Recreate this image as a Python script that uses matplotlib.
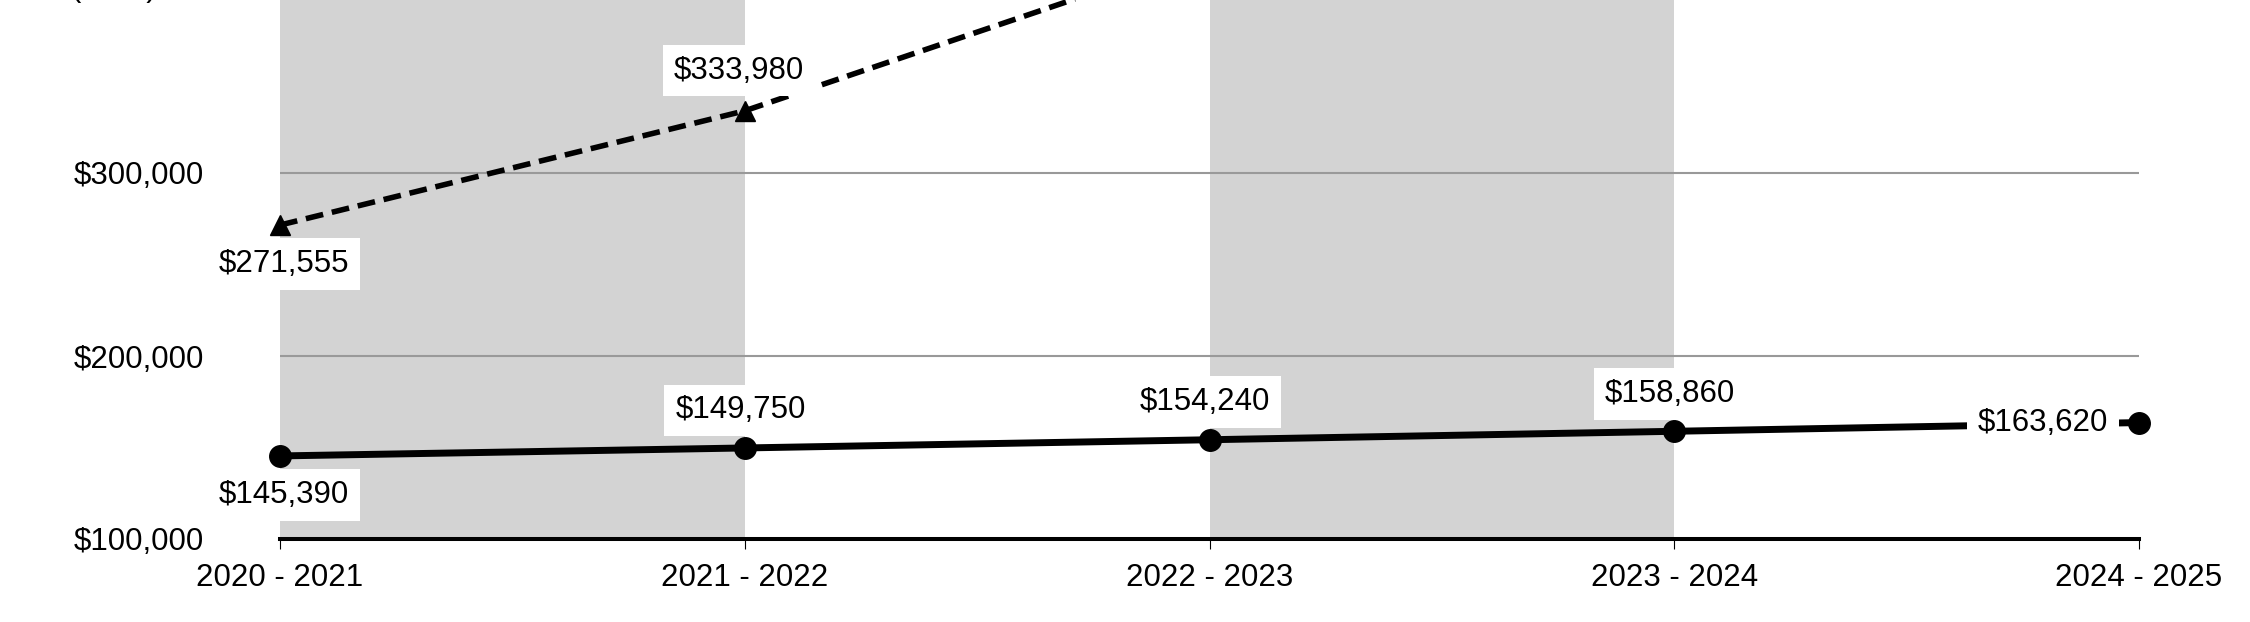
import matplotlib
matplotlib.use('Agg')
import matplotlib.pyplot as plt

plt.rcParams['font.family'] = ['Liberation Sans', 'DejaVu Sans']

# data
years = ['2020 - 2021', '2021 - 2022', '2022 - 2023', '2023 - 2024', '2024 - 2025']
solid_vals = [145390, 149750, 154240, 158860, 163620]
dashed_vals = [271555, 333980, 420000, 460000, 500000]
solid_labels = ['$145,390', '$149,750', '$154,240', '$158,860', '$163,620']
dashed_labels = ['$271,555', '$333,980']
yticks = [100000, 200000, 300000]
ytick_labels = ['$100,000', '$200,000', '$300,000']

fs = 22.5
fig = plt.figure(figsize=(22.5, 6.22), dpi=100)
# axes runs above the top of the picture, so the upper part is cut off
ax = fig.add_axes([280 / 2250, 83 / 622, 1859 / 2250, 732 / 622])
x = list(range(len(years)))

# alternating grey bands
for i in range(0, len(years) - 1, 2):
    ax.axvspan(x[i], x[i + 1], color='#d3d3d3', lw=0, zorder=0)

for v in yticks[1:]:
    ax.axhline(v, color='#999999', lw=1.5, zorder=1)

ax.plot(x, solid_vals, color='black', lw=5, marker='o', ms=15.5, zorder=3,
        clip_on=False)
ax.plot(x, dashed_vals, color='black', lw=4, ls=(0, (3.2, 1.6)),
        marker='^', ms=15, zorder=3, clip_on=False)

box = dict(boxstyle='square,pad=0.35', fc='white', ec='none')

# labels for the solid series
for i, (v, lab) in enumerate(zip(solid_vals, solid_labels)):
    if i == 0:
        off, ha, va = (3, -28), 'center', 'center'
    elif i == len(solid_vals) - 1:
        off, ha, va = (-22, 0), 'right', 'center'
    else:
        off, ha, va = (-3, 27), 'center', 'center'
    ax.annotate(lab, (x[i], v), xytext=off, textcoords='offset points',
                ha=ha, va=va, fontsize=fs, bbox=box, zorder=5)

# labels for the dashed series
ax.annotate(dashed_labels[0], (x[0], dashed_vals[0]), xytext=(3, -28),
            textcoords='offset points', ha='center', va='center',
            fontsize=fs, bbox=box, zorder=5)
ax.annotate(dashed_labels[1], (x[1], dashed_vals[1]), xytext=(-4, 29),
            textcoords='offset points', ha='center', va='center',
            fontsize=fs, bbox=box, zorder=5)

ax.set_xlim(0, len(years) - 1)
ax.set_ylim(100000, 500000)
ax.set_xticks(x)
ax.set_xticklabels(years, fontsize=fs)
ax.set_yticks(yticks)
ax.set_yticklabels(ytick_labels, fontsize=fs)
ax.tick_params(axis='y', length=0, pad=55)
ax.tick_params(axis='x', length=7, width=0.8, pad=10, color='black')

for s in ['top', 'right', 'left']:
    ax.spines[s].set_visible(False)
ax.spines['bottom'].set_linewidth(2.9)
ax.spines['bottom'].set_zorder(4)
ax.set_facecolor('white')

# axis title, mostly cut off at the top edge
fig.text(113 / 2250, 1.0 + 4 / 622, '(USD)', ha='center', va='baseline',
         fontsize=fs)

fig.savefig('out.png', dpi=100)
